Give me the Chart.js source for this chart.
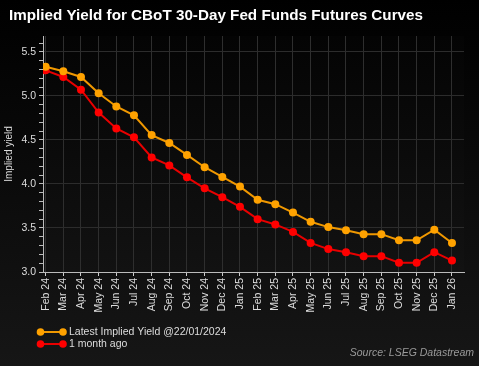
<!DOCTYPE html>
<html>
<head>
<meta charset="utf-8">
<script src="https://cdn.jsdelivr.net/npm/chart.js@4.4.1/dist/chart.umd.min.js"></script>
<style>
  html, body { margin: 0; padding: 0; background: #000; }
  #wrap { width: 479px; height: 366px; }
</style>
</head>
<body>
<div id="wrap"><canvas id="yieldChart" width="479" height="366"></canvas></div>
<script>
const months = ['Feb 24', 'Mar 24', 'Apr 24', 'May 24', 'Jun 24', 'Jul 24', 'Aug 24', 'Sep 24',
  'Oct 24', 'Nov 24', 'Dec 24', 'Jan 25', 'Feb 25', 'Mar 25', 'Apr 25', 'May 25', 'Jun 25',
  'Jul 25', 'Aug 25', 'Sep 25', 'Oct 25', 'Nov 25', 'Dec 25', 'Jan 26'];

const latest = [5.33, 5.28, 5.215, 5.03, 4.88, 4.78, 4.555, 4.465, 4.33, 4.19, 4.08, 3.97,
  3.82, 3.77, 3.675, 3.57, 3.51, 3.475, 3.43, 3.43, 3.36, 3.36, 3.48, 3.33];

const monthAgo = [5.29, 5.215, 5.07, 4.81, 4.63, 4.53, 4.30, 4.21, 4.075, 3.95, 3.85, 3.74,
  3.60, 3.54, 3.455, 3.33, 3.26, 3.225, 3.18, 3.18, 3.105, 3.105, 3.225, 3.13];

const TITLE = 'Implied Yield for CBoT 30-Day Fed Funds Futures Curves';
const SOURCE = 'Source: LSEG Datastream';
const FONT = '"Liberation Sans", Arial, sans-serif';

const isMajor = v => Math.abs(v * 2 - Math.round(v * 2)) < 1e-6;

// background, title, legend and source text
const decor = {
  id: 'decor',
  beforeDraw(chart) {
    const { ctx, chartArea: a, width, height } = chart;
    ctx.save();
    let g = ctx.createLinearGradient(0, 0, 0, height);
    g.addColorStop(0, '#000000');
    g.addColorStop(1, '#161616');
    ctx.fillStyle = g;
    ctx.fillRect(0, 0, width, height);
    g = ctx.createLinearGradient(0, a.top, 0, a.bottom);
    g.addColorStop(0, '#040404');
    g.addColorStop(1, '#121212');
    ctx.fillStyle = g;
    ctx.fillRect(a.left, a.top, a.right - a.left, a.bottom - a.top);
    ctx.restore();
  },
  afterDraw(chart) {
    const { ctx } = chart;
    ctx.save();
    // title, squeezed to the reference width
    ctx.font = 'bold 15px ' + FONT;
    ctx.fillStyle = '#ffffff';
    ctx.textBaseline = 'alphabetic';
    const tw = ctx.measureText(TITLE).width;
    ctx.translate(9, 20);
    ctx.scale(414 / tw, 1);
    ctx.fillText(TITLE, 0, 0);
    ctx.setTransform(1, 0, 0, 1, 0, 0);

    // legend
    ctx.font = '10.5px ' + FONT;
    ctx.textBaseline = 'middle';
    chart.data.datasets.forEach((ds, i) => {
      const y = 332 + i * 12;
      ctx.strokeStyle = ds.borderColor;
      ctx.lineWidth = 2;
      ctx.beginPath();
      ctx.moveTo(40.5, y);
      ctx.lineTo(63, y);
      ctx.stroke();
      ctx.fillStyle = ds.pointBackgroundColor;
      [40.5, 63].forEach(x => {
        ctx.beginPath();
        ctx.arc(x, y, 3.8, 0, Math.PI * 2);
        ctx.fill();
      });
      ctx.fillStyle = '#dddddd';
      ctx.fillText(ds.label, 69, y + 0.5);
    });

    // source
    ctx.font = 'italic 10.5px ' + FONT;
    ctx.fillStyle = '#9a9a9a';
    ctx.textAlign = 'right';
    ctx.fillText(SOURCE, 474, 353);
    ctx.restore();
  }
};

new Chart(document.getElementById('yieldChart'), {
  type: 'line',
  data: {
    datasets: [
      {
        label: 'Latest Implied Yield @22/01/2024',
        data: latest.map((y, i) => ({ x: i, y })),
        borderColor: '#F09800',
        pointBackgroundColor: '#FFA200',
        pointBorderWidth: 0,
        pointRadius: 4,
        borderWidth: 2,
        fill: false
      },
      {
        label: '1 month ago',
        data: monthAgo.map((y, i) => ({ x: i, y })),
        borderColor: '#E80000',
        pointBackgroundColor: '#FF0000',
        pointBorderWidth: 0,
        pointRadius: 4,
        borderWidth: 2,
        fill: false
      }
    ]
  },
  options: {
    responsive: false,
    animation: false,
    layout: { padding: { top: 36, right: 15, left: 0, bottom: 0 } },
    plugins: {
      legend: { display: false },
      tooltip: { enabled: false },
      title: { display: false }
    },
    scales: {
      x: {
        type: 'linear',
        min: -0.15,
        max: 23.68,
        afterFit: s => { s.height = 94; },
        border: { color: '#bbbbbb', width: 1 },
        grid: { color: '#2e2e2e', tickColor: '#cccccc', tickLength: 4 },
        ticks: {
          stepSize: 1,
          includeBounds: false,
          autoSkip: false,
          minRotation: 90,
          maxRotation: 90,
          padding: 2,
          color: '#dddddd',
          font: { family: FONT, size: 10.5 },
          callback: v => Number.isInteger(v) ? months[v] : ''
        }
      },
      y: {
        min: 3.0,
        max: 5.68,
        afterFit: s => { s.width = 43; },
        border: { color: '#bbbbbb', width: 1 },
        grid: {
          color: c => isMajor(c.tick.value) ? '#2c2c2c' : 'rgba(0,0,0,0)',
          tickColor: '#bbbbbb',
          tickLength: 4
        },
        ticks: {
          stepSize: 0.1,
          includeBounds: false,
          autoSkip: false,
          padding: 3,
          color: '#dddddd',
          font: { family: FONT, size: 10.5 },
          callback: v => isMajor(v) ? v.toFixed(1) : ''
        },
        title: {
          display: true,
          text: 'Implied yield',
          color: '#dddddd',
          font: { family: FONT, size: 10 },
          padding: { top: 3, bottom: 0 }
        }
      }
    }
  },
  plugins: [decor]
});
</script>
</body>
</html>
